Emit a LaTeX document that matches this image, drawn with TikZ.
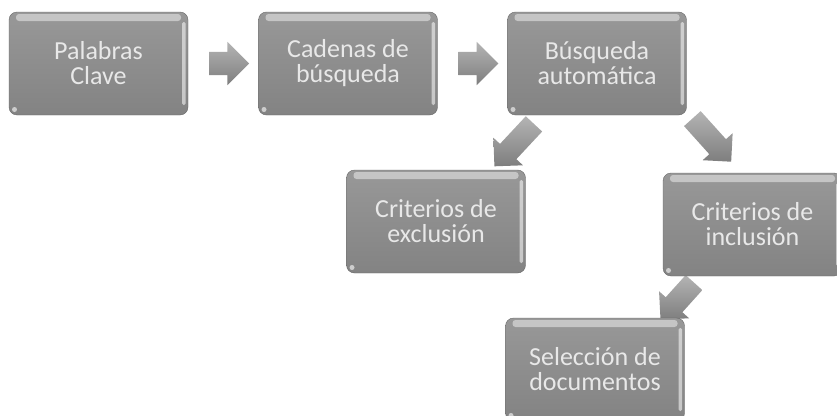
\documentclass[tikz,border=0pt]{standalone}
\usepackage{fontspec}
\setmainfont{Carlito}
\usetikzlibrary{shapes.arrows,calc}
\definecolor{boxtop}{HTML}{989898}
\definecolor{boxbot}{HTML}{838383}
\definecolor{boxtext}{HTML}{E8E8E8}
\definecolor{arrtop}{HTML}{B4B4B4}
\definecolor{arrbot}{HTML}{7E7E7E}
\tikzset{
  stepbox/.style={
    rectangle, rounded corners=8pt, minimum width=179pt, minimum height=103pt,
    top color=boxtop, bottom color=boxbot, draw=boxbot!80!black, line width=0.4pt,
    text=boxtext, align=center,
    font=\fontsize{26}{25}\selectfont,
    path picture={
      \fill[white,opacity=0.45,rounded corners=3pt]
        ([xshift=7pt,yshift=-2pt]path picture bounding box.north west) rectangle
        ([xshift=-7pt,yshift=-9pt]path picture bounding box.north east);
      \fill[white,opacity=0.55,rounded corners=1.5pt]
        ([xshift=-6pt,yshift=-10pt]path picture bounding box.north east) rectangle
        ([xshift=-2.5pt,yshift=10pt]path picture bounding box.south east);
      \fill[white,opacity=0.6]
        ([xshift=5.5pt,yshift=5.5pt]path picture bounding box.south west) circle (2.5pt);
    }
  },
  blockarrow/.style={
    single arrow, inner xsep=0pt, inner ysep=11.5pt,
    single arrow head extend=10pt, minimum height=40pt,
    top color=arrtop, bottom color=arrbot, draw=none
  },
  diagarrow/.style={
    single arrow, inner xsep=0pt, inner ysep=11pt,
    single arrow head extend=9pt, minimum height=58pt,
    top color=arrtop, bottom color=arrbot, draw=none
  }
}
\begin{document}
\begin{tikzpicture}[x=1pt,y=-1pt]
\useasboundingbox (0,0) rectangle (837,415);
\clip (0,0) rectangle (837,415);
\node[diagarrow, minimum height=50pt, rotate=228] (a5) at (681,297) {};
\node[stepbox] (b1) at (98.5,63.5) {Palabras\\Clave};
\node[stepbox] (b2) at (348,63.5) {Cadenas de\\búsqueda};
\node[stepbox] (b3) at (597,63.5) {Búsqueda\\automática};
\node[stepbox] (b4) at (436,221.5) {Criterios de\\exclusión};
\node[stepbox] (b5) at (752.5,224.5) {Criterios de\\inclusión};
\node[stepbox] (b6) at (595,369.5) {Selección de\\documentos};
\node[blockarrow] (a1) at ($(b1.east)!0.5!(b2.west)$) {};
\node[blockarrow] (a2) at ($(b2.east)!0.5!(b3.west)$) {};
\node[diagarrow, rotate=227] (a3) at (518,141) {};
\node[diagarrow, rotate=-48] (a4) at (708,136) {};
\end{tikzpicture}
\end{document}
